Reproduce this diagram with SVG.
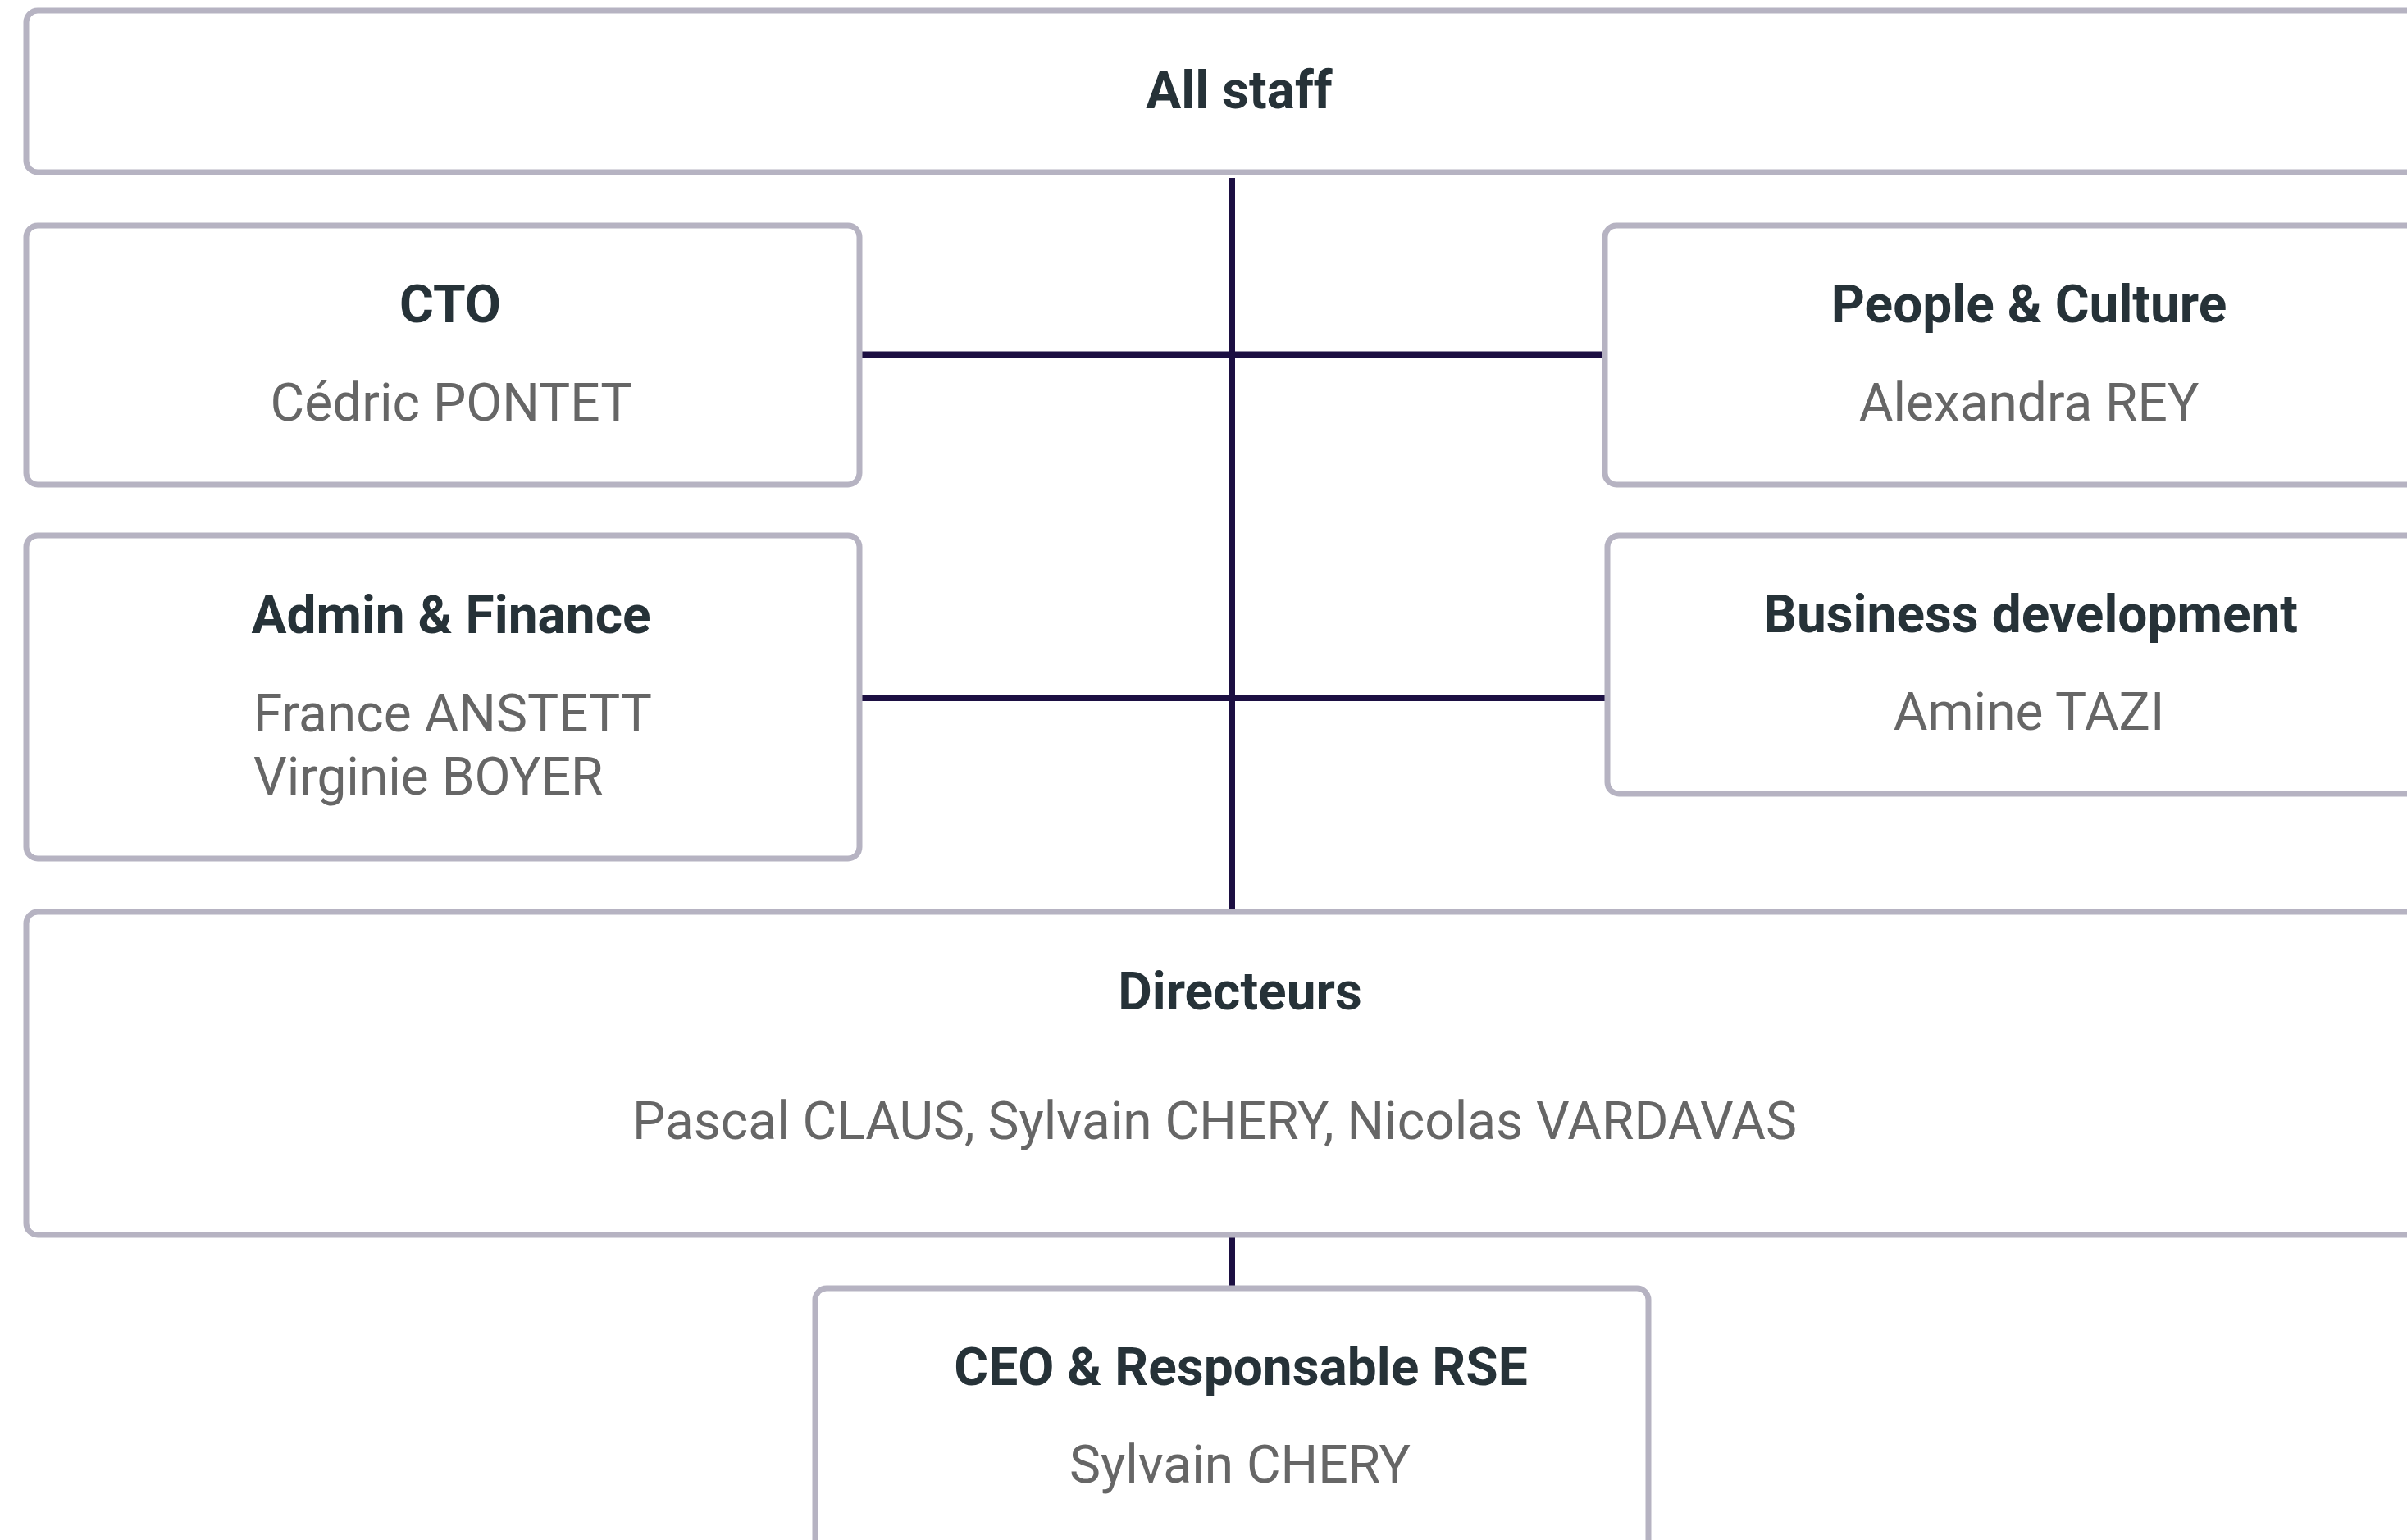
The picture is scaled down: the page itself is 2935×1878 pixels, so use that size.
<svg xmlns="http://www.w3.org/2000/svg" width="2935" height="1878" viewBox="0 0 2935 1878">
  <style>
    .box { fill: #ffffff; stroke: #b6b3c2; stroke-width: 7; }
    .conn { stroke: #1c0f42; stroke-width: 8; fill: none; }
    .title { font-family: Roboto, "Liberation Sans", sans-serif; font-weight: 700; font-size: 64px; fill: #263238; text-anchor: middle; }
    .name { font-family: Roboto, "Liberation Sans", sans-serif; font-weight: 400; font-size: 64px; fill: #666666; text-anchor: middle; }
    .name-left { font-family: Roboto, "Liberation Sans", sans-serif; font-weight: 400; font-size: 64px; fill: #666666; text-anchor: start; }
  </style>
  <rect x="0" y="0" width="2935" height="1878" fill="#ffffff"/>
  <g id="connectors">
    <line class="conn" x1="1502" y1="217" x2="1502" y2="1109"/>
    <line class="conn" x1="1502" y1="1509" x2="1502" y2="1568"/>
    <line class="conn" x1="1051" y1="432.5" x2="1954" y2="432.5"/>
    <line class="conn" x1="1051" y1="851" x2="1957" y2="851"/>
  </g>
  <g id="all-staff">
    <rect class="box" x="32" y="13" width="2980" height="197" rx="14"/>
    <text class="title" x="1511" y="132">All staff</text>
  </g>
  <g id="cto">
    <rect class="box" x="32" y="275" width="1016" height="316" rx="14"/>
    <text class="title" x="549" y="393">CTO</text>
    <text class="name" x="550" y="513">Cédric PONTET</text>
  </g>
  <g id="people-culture">
    <rect class="box" x="1957" y="275" width="1016" height="316" rx="14"/>
    <text class="title" x="2474" y="393">People &amp; Culture</text>
    <text class="name" x="2474" y="513">Alexandra REY</text>
  </g>
  <g id="admin-finance">
    <rect class="box" x="32" y="653" width="1016" height="394" rx="14"/>
    <text class="title" x="550" y="772">Admin &amp; Finance</text>
    <text class="name-left" x="309" y="892">France ANSTETT</text>
    <text class="name-left" x="309" y="969">Virginie BOYER</text>
  </g>
  <g id="business-development">
    <rect class="box" x="1960" y="653" width="1016" height="315" rx="14"/>
    <text class="title" x="2476" y="771">Business development</text>
    <text class="name" x="2474" y="890">Amine TAZI</text>
  </g>
  <g id="directeurs">
    <rect class="box" x="32" y="1112" width="2980" height="394" rx="14"/>
    <text class="title" x="1512" y="1231">Directeurs</text>
    <text class="name" x="1481" y="1389">Pascal CLAUS, Sylvain CHERY, Nicolas VARDAVAS</text>
  </g>
  <g id="ceo">
    <rect class="box" x="994" y="1571" width="1016" height="400" rx="14"/>
    <text class="title" x="1513" y="1689">CEO &amp; Responsable RSE</text>
    <text class="name" x="1512" y="1808">Sylvain CHERY</text>
  </g>
</svg>
